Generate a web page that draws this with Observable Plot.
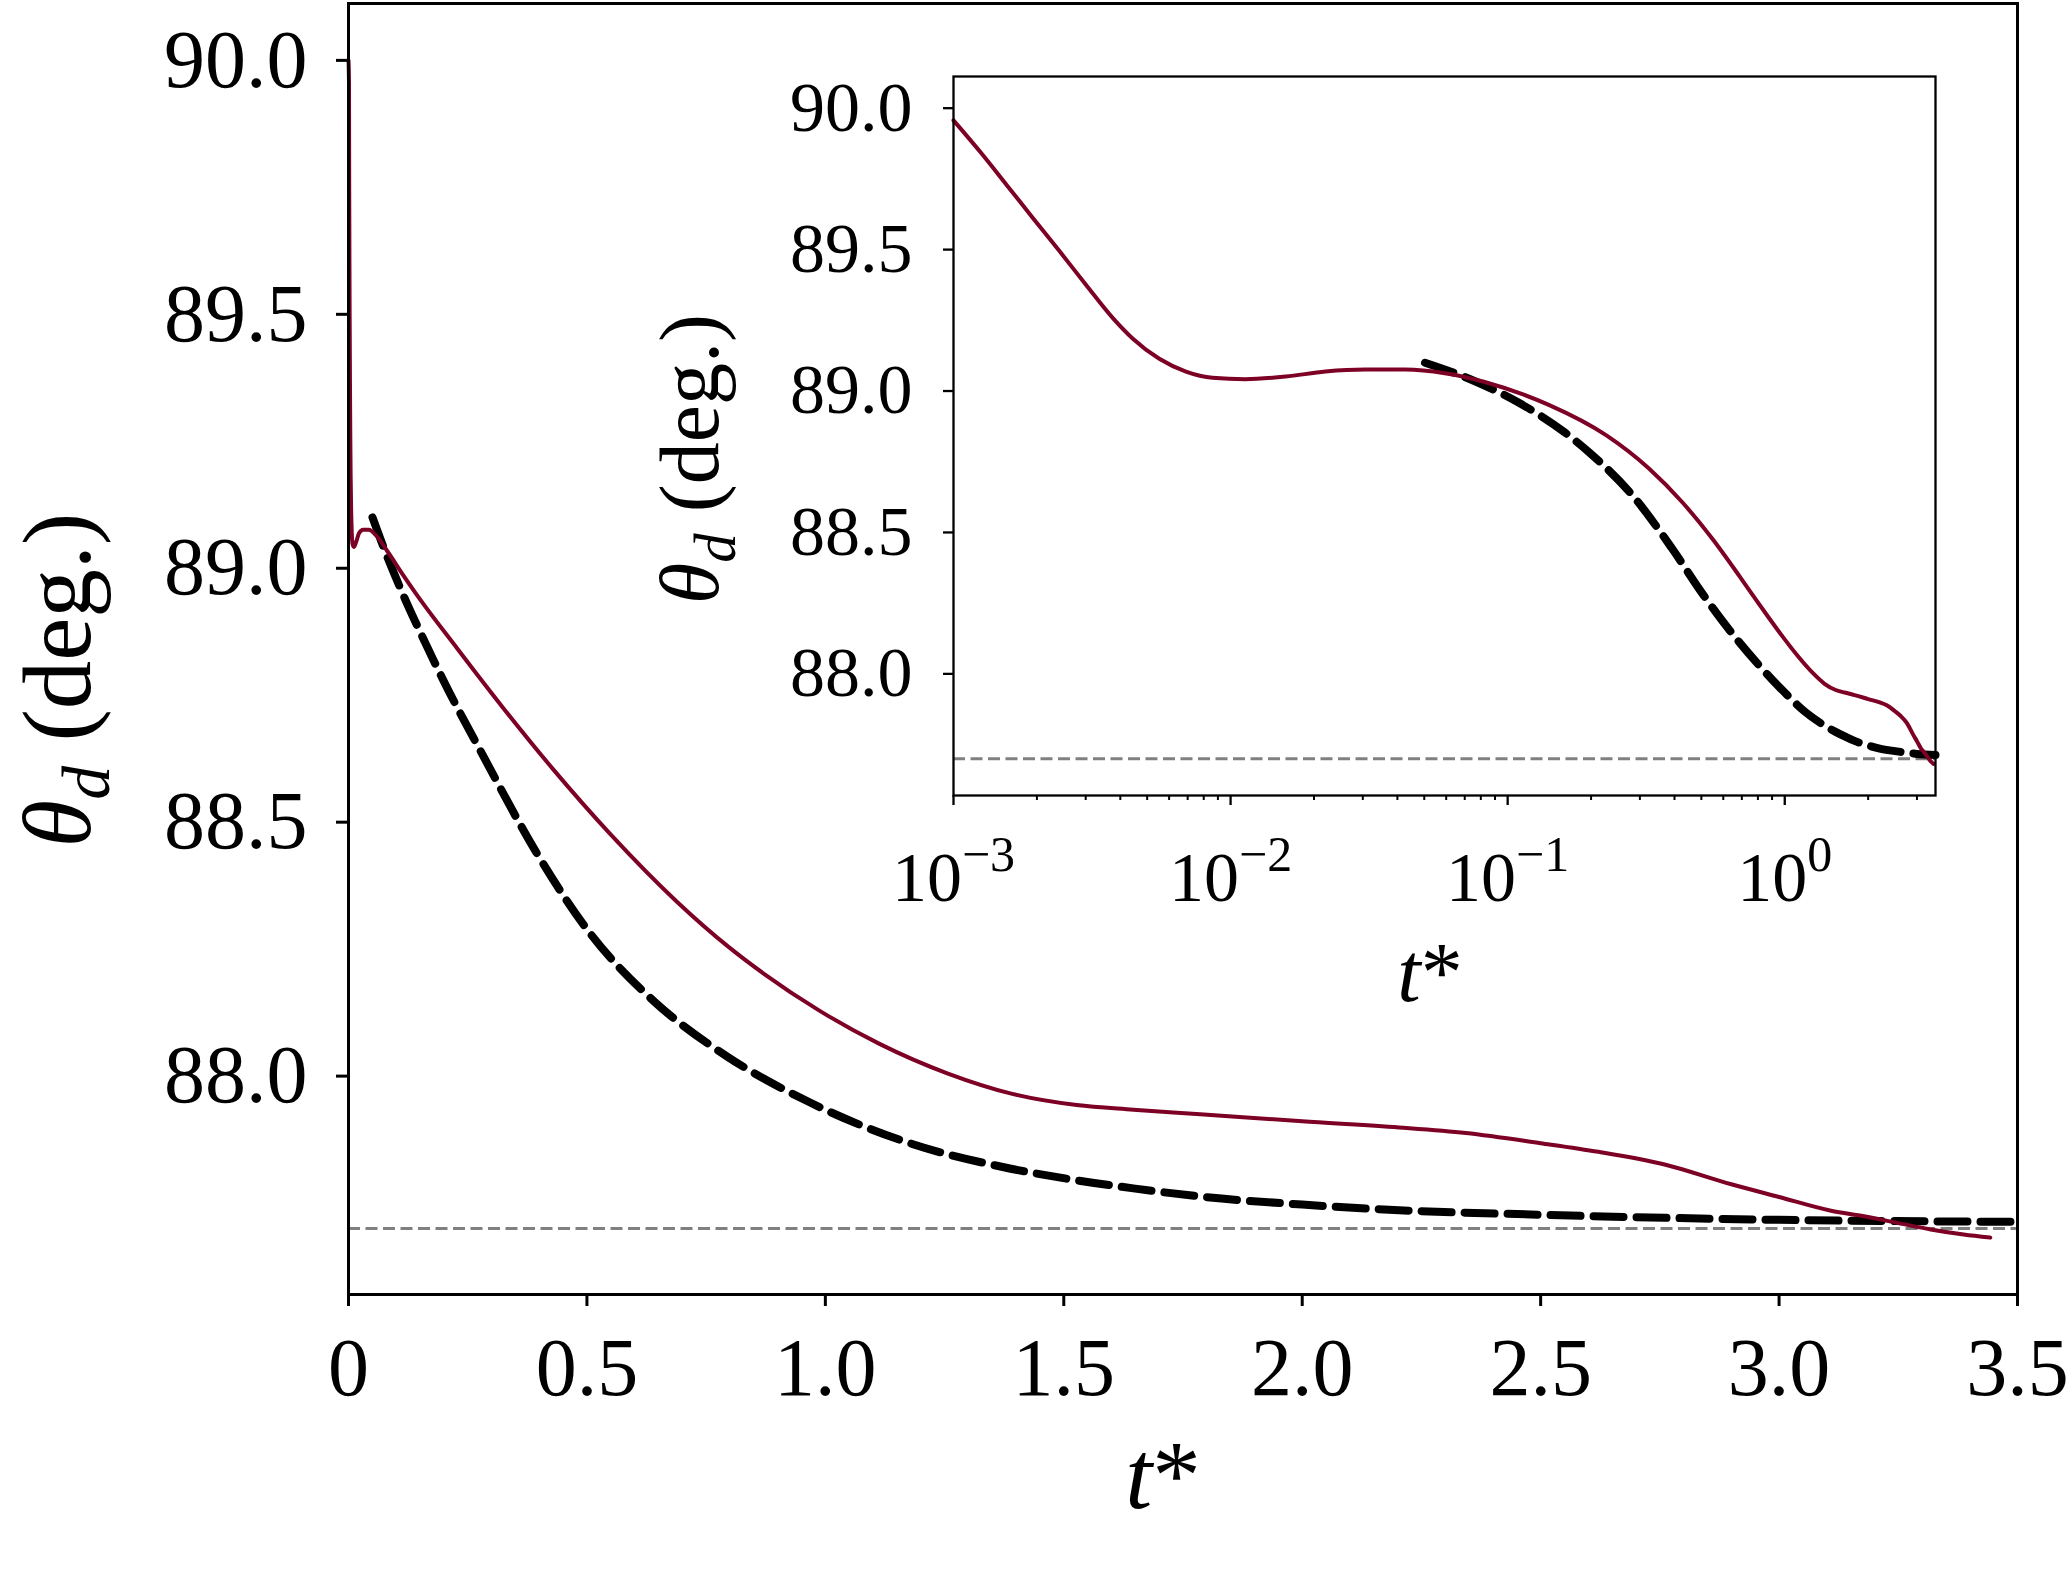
<!DOCTYPE html>
<html><head><meta charset="utf-8">
<script src="https://cdn.jsdelivr.net/npm/d3@7"></script>
<script src="https://cdn.jsdelivr.net/npm/@observablehq/plot@0.6"></script>
<style>
body{margin:0;background:white;}
#wrap{position:relative;width:2068px;height:1582px;overflow:hidden;}
#wrap svg{position:absolute;left:0;top:0;}
</style></head><body><div id="wrap"></div>
<script>
// ---- data ----
const tRed = [0, 0.001, 0.00125, 0.00156, 0.00194, 0.00242, 0.00301, 0.00376, 0.00443, 0.00553, 0.0069, 0.0086, 0.0113, 0.0158, 0.022, 0.0306, 0.0427, 0.0593, 0.0826, 0.115, 0.1407, 0.2272, 0.3235, 0.4293, 0.5496, 0.6892, 0.795, 0.872, 0.9874, 1.1125, 1.257, 1.392, 1.527, 1.646, 1.786, 2.0, 2.203, 2.343, 2.5, 2.621, 2.76, 2.9, 3.0, 3.109, 3.178, 3.248, 3.318, 3.387, 3.443];
const thetaRed = [90.0, 89.957, 89.845, 89.727, 89.61, 89.493, 89.375, 89.258, 89.186, 89.114, 89.069, 89.047, 89.042, 89.051, 89.069, 89.076, 89.076, 89.063, 89.032, 88.986, 88.951, 88.843, 88.726, 88.604, 88.476, 88.343, 88.256, 88.201, 88.129, 88.064, 88.005, 87.965, 87.943, 87.934, 87.925, 87.911, 87.899, 87.888, 87.868, 87.851, 87.826, 87.787, 87.762, 87.735, 87.724, 87.711, 87.698, 87.688, 87.682];
const tFit = [0.0503, 0.074, 0.109, 0.16, 0.198, 0.285, 0.391, 0.506, 0.641, 0.795, 0.968, 1.18, 1.372, 1.526, 1.646, 1.786, 2.0, 2.203, 2.5, 2.76, 3.0, 3.5];
const thetaFit = [89.10, 89.04, 88.96, 88.855, 88.781, 88.626, 88.445, 88.282, 88.147, 88.038, 87.948, 87.867, 87.821, 87.795, 87.779, 87.763, 87.747, 87.736, 87.727, 87.721, 87.717, 87.713];
const thetaEq = [87.70];

const mainXTicks = [0, 0.5, 1.0, 1.5, 2.0, 2.5, 3.0, 3.5];
const mainXLabels = ["0", "0.5", "1.0", "1.5", "2.0", "2.5", "3.0", "3.5"];
const yTicks = [88.0, 88.5, 89.0, 89.5, 90.0];
const yLabels = ["88.0", "88.5", "89.0", "89.5", "90.0"];
const insetXTicks = [0.001, 0.01, 0.1, 1];
const insetXExp = ["\u22123", "\u22122", "\u22121", "0"];
const insetMinor = [0.002,0.003,0.004,0.005,0.006,0.007,0.008,0.009,0.02,0.03,0.04,0.05,0.06,0.07,0.08,0.09,0.2,0.3,0.4,0.5,0.6,0.7,0.8,0.9,2,3];

// ---- tables ----
const red = tRed.map((t, i) => ({t, theta: thetaRed[i]}));
const fit = tFit.map((t, i) => ({t, theta: thetaFit[i]}));
const mainXMap = new Map(mainXTicks.map((d, i) => [d, mainXLabels[i]]));
const yMap = new Map(yTicks.map((d, i) => [d, yLabels[i]]));
const expMap = new Map(insetXTicks.map((d, i) => [d, "10^" + insetXExp[i]]));

const RED = "#7d0025";
const FONT = "Liberation Serif, Times New Roman, serif";
const yDomain = [87.57, 90.112];

const main = Plot.plot({
  width: 2068, height: 1582,
  marginLeft: 348, marginRight: 51, marginTop: 3, marginBottom: 288,
  style: {fontFamily: FONT, background: "transparent", overflow: "visible"},
  x: {domain: [0, 3.5], label: null},
  y: {domain: yDomain, label: null},
  marks: [
    Plot.ruleY(thetaEq, {stroke: "#808080", strokeWidth: 3, strokeDasharray: "12,5.5"}),
    Plot.line(fit, {x: "t", y: "theta", stroke: "black", strokeWidth: 8, strokeDasharray: "30,13", curve: "monotone-x"}),
    Plot.line(red, {x: "t", y: "theta", stroke: RED, strokeWidth: 4, curve: "monotone-x"}),
    Plot.axisX({ticks: mainXTicks, tickFormat: d => mainXMap.get(d), tickSize: 12, tickPadding: 30, fontSize: 82, strokeWidth: 3, label: null}),
    Plot.axisY({ticks: yTicks, tickFormat: d => yMap.get(d), tickSize: 12, tickPadding: 29, fontSize: 82, strokeWidth: 3, label: null}),
    Plot.frame({stroke: "black", strokeWidth: 3})
  ]
});

const inset = Plot.plot({
  width: 2068, height: 1582,
  marginLeft: 953, marginRight: 133, marginTop: 76, marginBottom: 787,
  style: {fontFamily: FONT, background: "transparent", overflow: "visible"},
  x: {type: "log", domain: [0.001, 3.5], label: null},
  y: {domain: yDomain, label: null},
  marks: [
    Plot.frame({fill: "white", stroke: "none"}),
    Plot.ruleY(thetaEq, {stroke: "#808080", strokeWidth: 3, strokeDasharray: "12,5.5"}),
    Plot.line(fit, {x: "t", y: "theta", stroke: "black", strokeWidth: 8, strokeDasharray: "30,13", curve: "monotone-x"}),
    Plot.line(red.filter(d => d.t > 0), {x: "t", y: "theta", stroke: RED, strokeWidth: 4, curve: "monotone-x"}),
    Plot.axisX({ticks: insetMinor, tickFormat: () => "", tickSize: 5, strokeWidth: 2, label: null}),
    Plot.axisX({ticks: insetXTicks, tickFormat: d => expMap.get(d), tickSize: 10, tickPadding: 46, fontSize: 70, strokeWidth: 2.3, label: null}),
    Plot.axisY({ticks: yTicks, tickFormat: d => yMap.get(d), tickSize: 10, tickPadding: 31, fontSize: 70, strokeWidth: 2.3, label: null}),
    Plot.frame({stroke: "black", strokeWidth: 2.3})
  ]
});

const wrap = document.getElementById("wrap");
wrap.appendChild(main);
wrap.appendChild(inset);

// superscript exponents on the inset log axis
d3.select(inset).selectAll("text").each(function() {
  const s = this.textContent;
  if (s && s.startsWith("10^")) {
    const exp = s.slice(3);
    const el = d3.select(this);
    el.text(null);
    el.append("tspan").text("10");
    el.append("tspan").attr("font-size", 50).attr("dy", -30).text(exp);
  }
});

function addLabels(svg, o) {
  const s = d3.select(svg);
  const xl = s.append("text")
    .attr("x", o.xx).attr("y", o.xy)
    .attr("text-anchor", "middle").attr("font-size", o.fs).attr("fill", "black");
  xl.append("tspan").attr("font-style", "italic").text("t");
  xl.append("tspan").text("*");

  const yl = s.append("text")
    .attr("transform", `translate(${o.yx},${o.yy}) rotate(-90)`)
    .attr("text-anchor", "middle").attr("font-size", o.fs).attr("fill", "black");
  yl.append("tspan").attr("font-style", "italic").text("\u03B8");
  yl.append("tspan").attr("font-style", "italic").attr("font-size", o.fs * 0.7).attr("dy", o.fs * 0.2).text("d");
  yl.append("tspan").attr("dy", -o.fs * 0.2).text("\u00A0(deg.)");
}
addLabels(main, {xx: 1163, xy: 1508, yx: 90, yy: 680, fs: 97});
addLabels(inset, {xx: 1430, xy: 1001, yx: 718, yy: 459, fs: 84});
</script>
</body></html>
